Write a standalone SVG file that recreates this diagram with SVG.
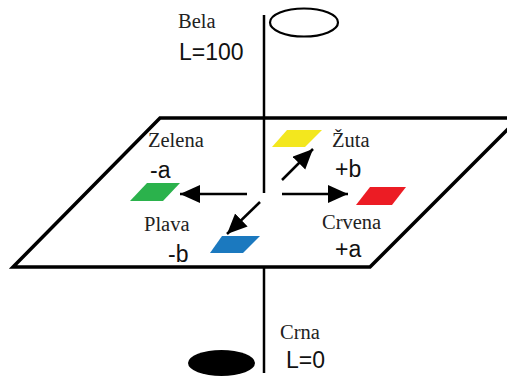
<svg xmlns="http://www.w3.org/2000/svg" width="507" height="376" viewBox="0 0 507 376">
<style>
.ax{stroke:#000;stroke-width:2.5;fill:none}
.pl{stroke:#000;stroke-width:3.5;fill:none;stroke-linejoin:miter}
.ar{stroke:#000;stroke-width:2.5;fill:none}
.serif{font-family:"Liberation Serif","Times New Roman",serif;font-size:20.5px;fill:#222}
.sans{font-family:"Liberation Sans",Arial,sans-serif;font-size:23px;fill:#111}
</style>
<defs>
<marker id="ah" markerUnits="userSpaceOnUse" markerWidth="22" markerHeight="20" refX="20" refY="9" orient="auto">
<path d="M0,0 L20,9 L0,18 Z" fill="#000"/>
</marker>
</defs>
<g id="plane">
<polygon class="pl" points="160,118 519,118 370,267 13,267"/>
</g>
<g id="axis">
<line class="ax" x1="264" y1="15" x2="264" y2="193"/>
<line class="ax" x1="264" y1="268" x2="264" y2="373"/>
</g>
<g id="bela">
<ellipse cx="304" cy="22.5" rx="34" ry="14" fill="#fff" stroke="#000" stroke-width="2.2"/>
<text class="serif" x="178" y="28">Bela</text>
<text class="sans" x="179" y="60">L=100</text>
</g>
<g id="crna">
<ellipse cx="221.5" cy="363" rx="33.5" ry="13" fill="#000"/>
<text class="serif" x="280" y="339">Crna</text>
<text class="sans" x="286" y="368">L=0</text>
</g>
<g id="zelena">
<polygon points="147,183 180,183 163,201 130,201" fill="#2bb24c"/>
<text class="serif" x="148" y="147">Zelena</text>
<text class="sans" x="150" y="178">-a</text>
</g>
<g id="zuta">
<polygon points="287,130 322,130 305,147 272,147" fill="#f3e71e"/>
<text class="serif" x="332" y="147">Žuta</text>
<text class="sans" x="335" y="177">+b</text>
</g>
<g id="crvena">
<polygon points="370,187 406,187 392,205 356,205" fill="#ec1c24"/>
<text class="serif" x="322" y="229">Crvena</text>
<text class="sans" x="335" y="257">+a</text>
</g>
<g id="plava">
<polygon points="222,236 260,236 243,253 210,253" fill="#1b79bf"/>
<text class="serif" x="144" y="231">Plava</text>
<text class="sans" x="168" y="262">-b</text>
</g>
<g id="connectors">
<line class="ar" x1="247" y1="194" x2="180" y2="194" marker-end="url(#ah)"/>
<line class="ar" x1="282" y1="194" x2="348" y2="194" marker-end="url(#ah)"/>
<line class="ar" x1="282" y1="180" x2="313" y2="149" marker-end="url(#ah)"/>
<line class="ar" x1="260" y1="202" x2="227" y2="234" marker-end="url(#ah)"/>
</g>
</svg>
